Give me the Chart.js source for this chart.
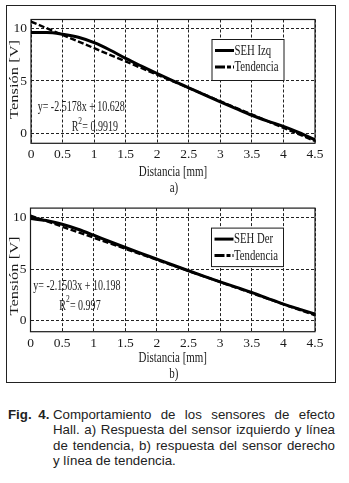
<!DOCTYPE html>
<html><head><meta charset="utf-8">
<script src="https://cdn.jsdelivr.net/npm/chart.js@4"></script>
<style>
html,body{margin:0;padding:0;background:#fff;width:349px;height:483px;overflow:hidden}
#box{position:absolute;left:6px;top:5px;width:328px;height:376px;border:1.3px solid #222}
canvas{position:absolute;left:0}
#ca{top:0}
#cb{top:196px}
#cap{position:absolute;left:8px;top:407px;width:327px;font-family:"Liberation Sans",Arial,sans-serif;font-size:13.3px;line-height:15.4px;color:#222}
#cap .row{display:flex}
#cap .h{width:45px;flex:none;font-weight:bold;word-spacing:3px}
#cap .t{flex:1;text-align:justify;text-align-last:justify}
#cap .last .t{text-align-last:left}
</style></head>
<body>
<div id="box"></div>
<canvas id="ca" width="349" height="196"></canvas>
<canvas id="cb" width="349" height="187"></canvas>
<div id="cap">
<div class="row"><div class="h">Fig. 4.</div><div class="t">Comportamiento de los sensores de efecto</div></div>
<div class="row"><div class="h"></div><div class="t">Hall. a) Respuesta del sensor izquierdo y línea</div></div>
<div class="row"><div class="h"></div><div class="t">de tendencia, b) respuesta del sensor derecho</div></div>
<div class="row last"><div class="h"></div><div class="t">y línea de tendencia.</div></div>
</div>
<script>
// ---- data ----
const distancia = [0,0.25,0.5,0.75,1,1.25,1.5,1.75,2,2.25,2.5,2.75,3,3.25,3.5,3.75,4,4.25,4.5];
const sehIzq = [9.59,9.59,9.43,9.14,8.63,7.94,7.14,6.41,5.71,5.02,4.35,3.68,3.02,2.38,1.75,1.2,0.7,0.1,-0.57];
const sehDer = [9.9,9.72,9.35,8.87,8.29,7.68,7.1,6.52,5.97,5.4,4.84,4.3,3.77,3.25,2.74,2.17,1.61,1.12,0.65];
const trendX = [0,4.5];
const trendIzq = [10.63,-0.70];
const trendDer = [10.2,0.52];
const xTicks = [0,0.5,1,1.5,2,2.5,3,3.5,4,4.5];
const yTicks = [0,5,10];
const eqIzq = ["y= -2.5178x + 10.628","0.9919"];
const eqDer = ["y= -2.1503x + 10.198","0.997"];

const SERIF = '"Liberation Serif","Times New Roman",serif';
const INK = '#1a1a1a';

function txt(ctx, s, x, y, size, sx, align){
  ctx.save();
  ctx.translate(x,y); ctx.scale(sx,1);
  ctx.font = size+'px '+SERIF; ctx.fillStyle=INK;
  ctx.textAlign = align||'left'; ctx.textBaseline='middle';
  ctx.fillText(s,0,0);
  const w = ctx.measureText(s).width*sx;
  ctx.restore();
  return w;
}

const deco = {
  id:'deco',
  beforeDatasetsDraw(chart){
    const {ctx, chartArea:a} = chart;
    ctx.save(); ctx.strokeStyle=INK; ctx.lineWidth=1.2;
    ctx.strokeRect(a.left, a.top, a.right-a.left, a.bottom-a.top);
    ctx.restore();
  },
  afterDraw(chart, args, o){
    const {ctx, chartArea:a} = chart;
    txt(ctx, 'Distancia [mm]', (a.left+a.right)/2, a.bottom+o.xt, 15, 0.73, 'center');
    txt(ctx, o.tag, (a.left+a.right)/2+1, a.bottom+o.tg, 15, 0.73, 'center');
    ctx.save();
    ctx.translate(15, (a.top+a.bottom)/2+o.yo);
    ctx.rotate(-Math.PI/2);
    ctx.scale(1,0.72);
    ctx.font='16.5px '+SERIF; ctx.fillStyle=INK; ctx.textAlign='center'; ctx.textBaseline='middle';
    ctx.fillText('Tensión [V]',0,0);
    ctx.restore();
    txt(ctx, o.eq[0], a.left+o.ex, a.top+o.ey, 14.5, 0.69);
    let x = a.left+o.rx, y = a.top+o.ey+20;
    x += txt(ctx,'R',x,y,14.5,0.69);
    txt(ctx,'2',x,y-6,10,0.75);
    x += 4;
    txt(ctx,'= '+o.eq[1],x,y,14.5,0.69);
    const lx=a.left+181, ly=a.top+20, lw=72, lh=o.lh;
    ctx.save();
    ctx.fillStyle='#fff'; ctx.fillRect(lx,ly,lw,lh);
    ctx.strokeStyle=INK; ctx.lineWidth=1; ctx.strokeRect(lx,ly,lw,lh);
    chart.data.datasets.forEach((ds,i)=>{
      const yy = ly+11+i*16.5;
      ctx.save();
      ctx.strokeStyle='#000'; ctx.lineWidth=3;
      ctx.setLineDash(i===0?[]:[10,2,4,2]);
      ctx.beginPath(); ctx.moveTo(lx+3,yy); ctx.lineTo(lx+22,yy); ctx.stroke();
      ctx.restore();
      txt(ctx, ds.label, lx+22.5, yy+0.5, 14.5, 0.74);
    });
    ctx.restore();
  }
};

function makeChart(id, vals, trend, label, opt){
  const pts = distancia.map((d,i)=>({x:d,y:vals[i]}));
  const tpts = trendX.map((d,i)=>({x:d,y:trend[i]}));
  return new Chart(document.getElementById(id), {
    type:'line',
    data:{datasets:[
      {label:label, data:pts, borderColor:'#000', borderWidth:3, pointRadius:0, cubicInterpolationMode:'monotone', fill:false},
      {label:'Tendencia', data:tpts, borderColor:'#000', borderWidth:2.4, borderDash:[6,2.5], pointRadius:0, fill:false}
    ]},
    options:{
      responsive:false, animation:false, events:[],
      layout:{padding:{top:opt.top, right:34, left:0, bottom:0}},
      plugins:{legend:{display:false}, tooltip:{enabled:false}, deco:opt.deco},
      scales:{
        x:{type:'linear', min:0, max:4.5,
          afterBuildTicks:s=>{s.ticks = xTicks.map(v=>({value:v}));},
          afterFit:s=>{s.height = opt.xh;},
          grid:{color:'#222', lineWidth:1, drawTicks:false},
          border:{display:false, dash:[3,2]},
          ticks:{font:{family:SERIF,size:13.5}, color:INK, padding:3.5, maxRotation:0, autoSkip:false, callback:v=>String(v)}
        },
        y:{type:'linear', min:opt.ymin, max:opt.ymax,
          afterBuildTicks:s=>{s.ticks = yTicks.map(v=>({value:v}));},
          afterFit:s=>{s.width = opt.yw;},
          grid:{color:'#222', lineWidth:1, drawTicks:false},
          border:{display:false, dash:[3,2]},
          ticks:{font:{family:SERIF,size:13.5}, color:INK, padding:4, callback:v=>String(v)}
        }
      }
    },
    plugins:[deco]
  });
}

makeChart('ca', sehIzq, trendIzq, 'SEH Izq', {top:19.5, xh:52.7, yw:31, ymin:-0.91, ymax:10.83,
  deco:{eq:eqIzq, tag:'a)', xt:28.4, tg:45, yo:-2, ex:6.7, ey:87.5, rx:40.7, lh:41}});
makeChart('cb', sehDer, trendDer, 'SEH Der', {top:10.7, xh:51.3, yw:30.5, ymin:-1.07, ymax:10.92,
  deco:{eq:eqDer, tag:'b)', xt:26.6, tg:42.3, yo:6, ex:2.8, ey:77.6, rx:28.8, lh:38.5}});
</script>
</body></html>
